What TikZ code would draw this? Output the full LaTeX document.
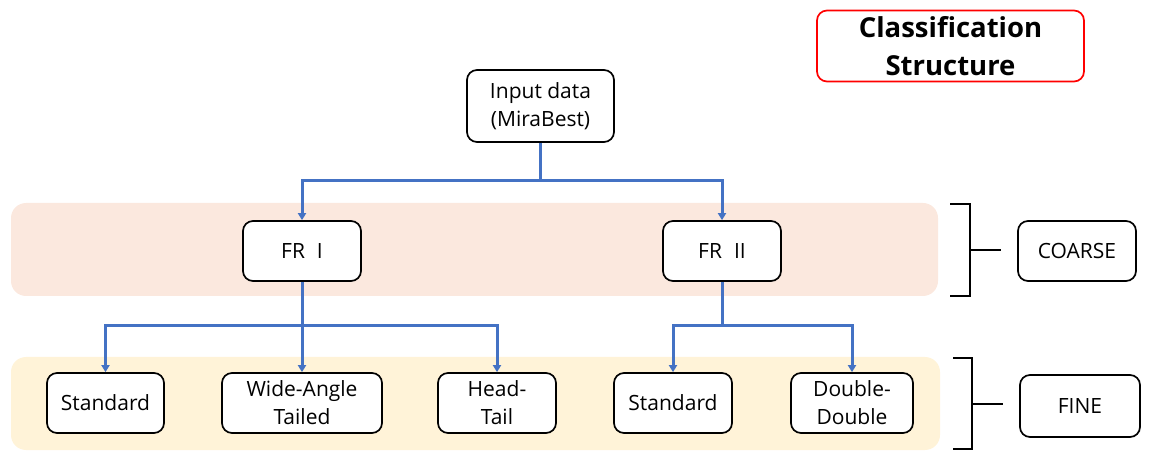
\documentclass[tikz,border=0pt]{standalone}
\usepackage{fontspec}
\setmainfont{Open Sans}
\usetikzlibrary{arrows.meta}
\definecolor{coarsebg}{HTML}{FBE8DE}
\definecolor{finebg}{HTML}{FFF3D8}
\definecolor{linkblue}{HTML}{4472C4}
\definecolor{titlered}{HTML}{FF0000}
\tikzset{
  box/.style={draw=black, line width=1.7pt, rounded corners=10pt, fill=white, inner sep=0pt, align=center, font=\fontsize{21}{28}\selectfont},
  band/.style={rounded corners=15pt, draw=none},
  link/.style={draw=linkblue, line width=3pt, -{Triangle[width=8pt,length=7pt]}},
  linkplain/.style={draw=linkblue, line width=3pt},
  brk/.style={draw=black, line width=2.8pt},
}
\begin{document}
\begin{tikzpicture}[x=1pt,y=-1pt]
\useasboundingbox (0,0) rectangle (1149,462);
% bands
\fill[band, coarsebg] (11,203) rectangle (938,296);
\fill[band, finebg] (11,357) rectangle (940,450);
% title
\node[draw=titlered, line width=1.7pt, rounded corners=10pt, minimum width=267pt, minimum height=71pt, inner sep=0pt, align=center, font=\fontsize{27.5}{38}\selectfont\bfseries] (title) at (950.5,46) {Classification\\Structure};
% nodes
\node[box, minimum width=147pt, minimum height=72pt] (in) at (540.5,106) {Input data\\(MiraBest)};
\node[box, minimum width=118pt, minimum height=60pt] (fr1) at (302,251) {FR\hspace{12pt}I};
\node[box, minimum width=118pt, minimum height=60pt] (fr2) at (722,251) {FR\hspace{12pt}II};
\node[box, minimum width=117pt, minimum height=60pt] (s1) at (105.5,403) {Standard};
\node[box, minimum width=160pt, minimum height=60pt] (wat) at (302,403) {Wide-Angle\\Tailed};
\node[box, minimum width=118pt, minimum height=60pt] (ht) at (497,403) {Head-\\Tail};
\node[box, minimum width=118pt, minimum height=60pt] (s2) at (673,403) {Standard};
\node[box, minimum width=122pt, minimum height=60pt] (dd) at (852,403) {Double-\\Double};
\node[box, minimum width=118pt, minimum height=60pt] (coarse) at (1077,251) {COARSE};
\node[box, minimum width=120pt, minimum height=62pt] (fine) at (1080,406) {FINE};
% connectors
\coordinate (j0) at (540.5,181);
\coordinate (j1) at (302,326);
\coordinate (j2) at (722,326);
\draw[linkplain] (in.south) -- (j0);
\draw[link] (j0) -| (fr1.north);
\draw[link] (j0) -| (fr2.north);
\draw[linkplain] (fr1.south) -- (j1);
\draw[link] (j1) -| (s1.north);
\draw[link] (j1) -- (wat.north);
\draw[link] (j1) -| (ht.north);
\draw[linkplain] (fr2.south) -- (j2);
\draw[link] (j2) -| (s2.north);
\draw[link] (j2) -| (dd.north);
% brackets
\draw[brk] (950,204) -- (970,204) -- (970,296) -- (950,296);
\draw[brk] (970,250) -- (1001,250);
\draw[brk] (953,358) -- (972,358) -- (972,449) -- (953,449);
\draw[brk] (972,404) -- (1003,404);
\end{tikzpicture}
\end{document}
